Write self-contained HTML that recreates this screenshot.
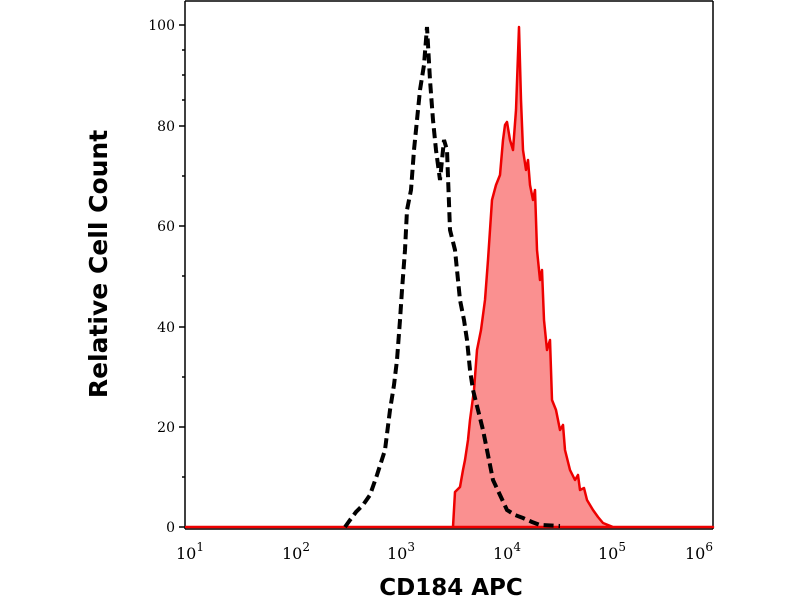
<!DOCTYPE html>
<html><head><meta charset="utf-8"><style>body{margin:0;background:#fff}svg{display:block}</style></head><body>
<svg width="800" height="600" xmlns="http://www.w3.org/2000/svg">
<rect width="800" height="600" fill="#fff"/>
<g fill="none" stroke="#000" stroke-width="1.5">
<line x1="185" y1="1" x2="713" y2="1"/><line x1="713" y1="1" x2="713" y2="529"/>
<line x1="185" y1="1" x2="185" y2="529"/><line x1="185" y1="529" x2="713" y2="529"/>
</g>
<path d="M186 527 L453 527 L455 492 L460 487 L463 470 L465 460 L468 440 L470 420 L474 390 L477 350 L481 330 L485 300 L488 260 L492 200 L496 185 L500 175 L503 140 L505 125 L507 122 L510 140 L513 150 L516 110 L519 27 L521 100 L523 150 L526 170 L528 160 L530 185 L533 200 L535 190 L537 250 L540 280 L542 270 L544 320 L547 350 L550 340 L552 400 L556 410 L560 430 L563 425 L565 450 L570 470 L575 480 L578 475 L580 490 L584 488 L587 500 L593 510 L598 517 L603 523 L613 527 L713 527 Z" fill="#fa9090" stroke="#e00" stroke-width="2.5" stroke-linejoin="round"/>
<path d="M345 527 L350 520 L356 512 L363 505 L370 495 L377 475 L385 450 L390 410 L394 385 L397 360 L400 320 L402 290 L405 250 L407 210 L411 190 L414 150 L417 120 L420 90 L424 65 L427 27 L430 80 L433 120 L436 150 L440 180 L444 140 L447 150 L450 230 L455 250 L460 300 L464 320 L467 340 L470 370 L473 390 L478 410 L483 430 L487 450 L493 480 L500 495 L507 510 L515 515 L523 518 L532 522 L540 525 L560 526" fill="none" stroke="#000" stroke-width="4" stroke-dasharray="10 5"/>
<g stroke="#000" stroke-width="1.5">
<line x1="179" y1="25" x2="185" y2="25"/><line x1="179" y1="126" x2="185" y2="126"/><line x1="179" y1="226" x2="185" y2="226"/><line x1="179" y1="327" x2="185" y2="327"/><line x1="179" y1="427" x2="185" y2="427"/><line x1="179" y1="527" x2="185" y2="527"/>
<line x1="182" y1="75" x2="185" y2="75"/><line x1="182" y1="176" x2="185" y2="176"/><line x1="182" y1="276" x2="185" y2="276"/><line x1="182" y1="377" x2="185" y2="377"/><line x1="182" y1="477" x2="185" y2="477"/>
<line x1="182" y1="50" x2="185" y2="50"/><line x1="182" y1="100" x2="185" y2="100"/>
</g>
<g id="xt" stroke="#000" stroke-width="1"></g>
<script>
var g=document.getElementById('xt'),s='';
for(var d=0;d<5;d++){var x0=185+d*105.6;s+='<line x1="'+x0+'" y1="529" x2="'+x0+'" y2="536" stroke-width="2"/>';
for(var k=2;k<10;k++){var x=x0+Math.log10(k)*105.6;s+='<line x1="'+x+'" y1="529" x2="'+x+'" y2="'+(k==5?534:533)+'"/>';}}
s+='<line x1="713" y1="529" x2="713" y2="536" stroke-width="2"/>';
g.innerHTML=s;
</script>
<g font-family="DejaVu Serif, Liberation Serif, serif" font-size="14" fill="#000" text-anchor="end">
<text x="175" y="30">100</text><text x="175" y="131">80</text><text x="175" y="231">60</text><text x="175" y="332">40</text><text x="175" y="432">20</text><text x="175" y="532">0</text>
</g>
<g font-family="DejaVu Serif, Liberation Serif, serif" font-size="16" fill="#000">
<text x="176" y="559">10<tspan font-size="12" dy="-8">1</tspan></text>
<text x="282" y="559">10<tspan font-size="12" dy="-8">2</tspan></text>
<text x="387" y="559">10<tspan font-size="12" dy="-8">3</tspan></text>
<text x="493" y="559">10<tspan font-size="12" dy="-8">4</tspan></text>
<text x="598" y="559">10<tspan font-size="12" dy="-8">5</tspan></text>
<text x="685" y="559">10<tspan font-size="12" dy="-8">6</tspan></text>
</g>
<text x="451" y="595" text-anchor="middle" font-family="DejaVu Sans, Liberation Sans, sans-serif" font-weight="bold" font-size="23">CD184 APC</text>
<text transform="translate(107,264) rotate(-90)" text-anchor="middle" font-family="DejaVu Sans, Liberation Sans, sans-serif" font-weight="bold" font-size="25">Relative Cell Count</text>
</svg>
</body></html>
